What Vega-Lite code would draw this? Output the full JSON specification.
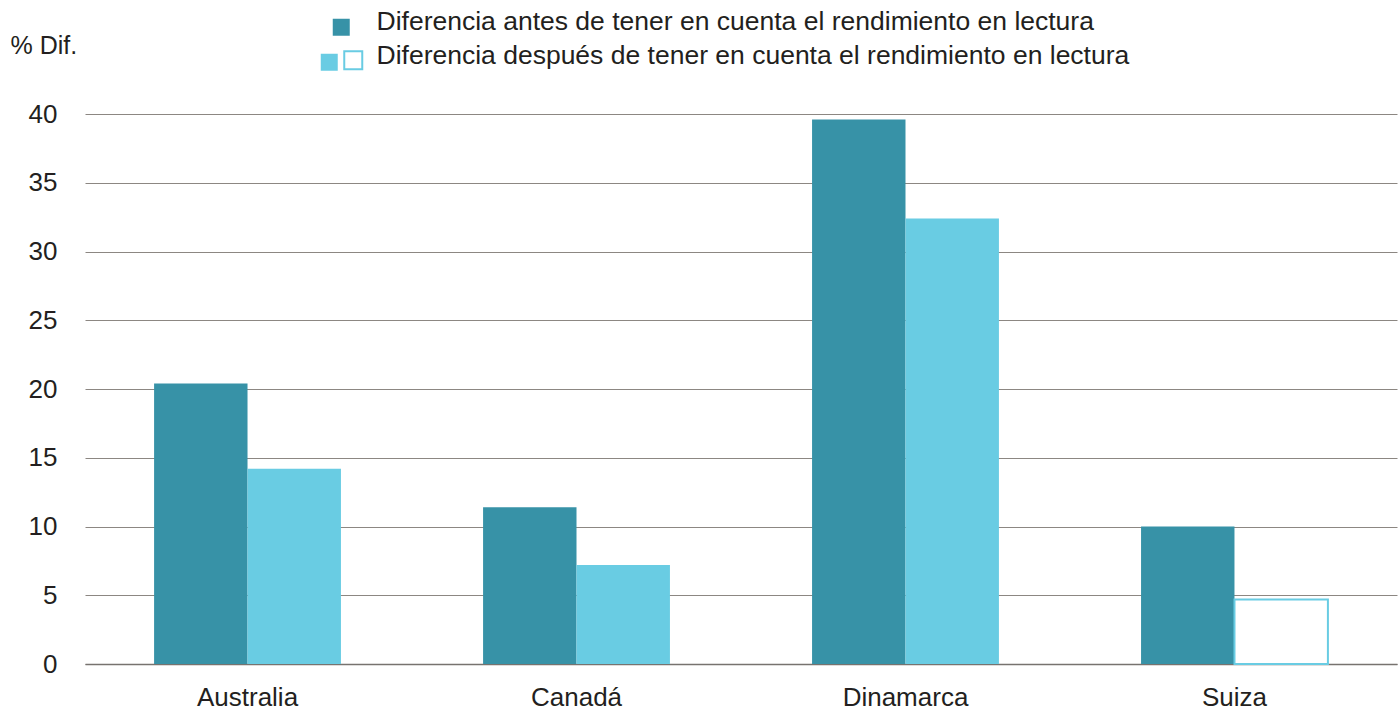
{
  "$schema": "https://vega.github.io/schema/vega-lite/v6.json",
  "width": 1312,
  "height": 550,
  "autosize": {"type": "none"},
  "padding": {"left": 85, "top": 114, "right": 3, "bottom": 47},
  "background": "white",
  "config": {
    "view": {"stroke": null},
    "font": "Liberation Sans",
    "legend": {"padding": 0, "labelFont": "Liberation Sans", "labelFontSize": 26.5, "labelColor": "#231f20", "labelBaseline": "alphabetic", "symbolType": "square", "symbolSize": 289, "title": null, "orient": "none", "labelLimit": 1000}
  },
  "data": {
    "values": [
      {"pais": "Australia", "serie": "antes", "relleno": "antes", "valor": 20.4},
      {"pais": "Australia", "serie": "despues", "relleno": "despues", "valor": 14.2},
      {"pais": "Canadá", "serie": "antes", "relleno": "antes", "valor": 11.4},
      {"pais": "Canadá", "serie": "despues", "relleno": "despues", "valor": 7.2},
      {"pais": "Dinamarca", "serie": "antes", "relleno": "antes", "valor": 39.6},
      {"pais": "Dinamarca", "serie": "despues", "relleno": "despues", "valor": 32.4},
      {"pais": "Suiza", "serie": "antes", "relleno": "antes", "valor": 10.0},
      {"pais": "Suiza", "serie": "despues", "relleno": "hueco", "valor": 4.7}
    ]
  },
  "mark": {"type": "bar"},
  "encoding": {
    "x": {
      "field": "pais", "type": "nominal", "sort": null,
      "scale": {"paddingInner": 0.432, "paddingOuter": 0.21},
      "axis": {"title": null, "labelAngle": 0, "labelFontSize": 26, "labelColor": "#231f20", "labelPadding": 20, "ticks": false, "domain": true, "domainColor": "#77736f", "domainWidth": 1.5}
    },
    "xOffset": {"field": "serie", "type": "nominal", "sort": ["antes", "despues"], "scale": {"paddingInner": 0, "paddingOuter": 0}},
    "y": {
      "field": "valor", "type": "quantitative",
      "scale": {"domain": [0, 40], "nice": false},
      "axis": {"values": [0, 5, 10, 15, 20, 25, 30, 35, 40], "title": "% Dif.", "titleAngle": 0, "titleX": -75, "titleY": -69, "titleAlign": "left", "titleBaseline": "middle", "titleFontSize": 25, "titleFontWeight": "normal", "titleColor": "#231f20", "labelFontSize": 26, "labelColor": "#231f20", "labelPadding": 28, "ticks": false, "domain": false, "grid": true, "gridColor": "#8c8782", "gridWidth": 1}
    },
    "fill": {
      "field": "relleno", "type": "nominal",
      "scale": {"domain": ["antes", "despues", "hueco"], "range": ["#3792a7", "#69cce3", "#ffffff"]},
      "legend": {"values": ["antes"], "labelExpr": "'Diferencia antes de tener en cuenta el rendimiento en lectura'", "legendX": 243, "legendY": -100, "labelOffset": 22, "symbolStrokeWidth": 0,
        "encode": {"labels": {"update": {"dy": {"value": 3}}}}}
    },
    "stroke": {
      "field": "serie", "type": "nominal",
      "scale": {"domain": ["antes", "despues"], "range": ["#3792a7", "#69cce3"]},
      "legend": {"values": ["despues"], "labelExpr": "'Diferencia después de tener en cuenta el rendimiento en lectura'", "legendX": 255, "legendY": -67, "labelOffset": 10, "symbolSize": 324,
        "symbolFillColor": "#ffffff", "symbolStrokeColor": "#69cce3", "symbolStrokeWidth": 2,
        "encode": {"labels": {"update": {"dy": {"value": 4}}}}}
    },
    "opacity": {
      "field": "serie", "type": "ordinal",
      "scale": {"domain": ["despues", "antes"], "range": [1, 1]},
      "legend": {"values": ["despues"], "labelExpr": "''", "legendX": 231, "legendY": -65, "labelOffset": 0,
        "symbolFillColor": "#69cce3", "symbolStrokeColor": "#69cce3", "symbolStrokeWidth": 0, "symbolOpacity": 1}
    },
    "strokeWidth": {"condition": {"test": "datum.relleno === 'hueco'", "value": 2}, "value": 0}
  }
}
